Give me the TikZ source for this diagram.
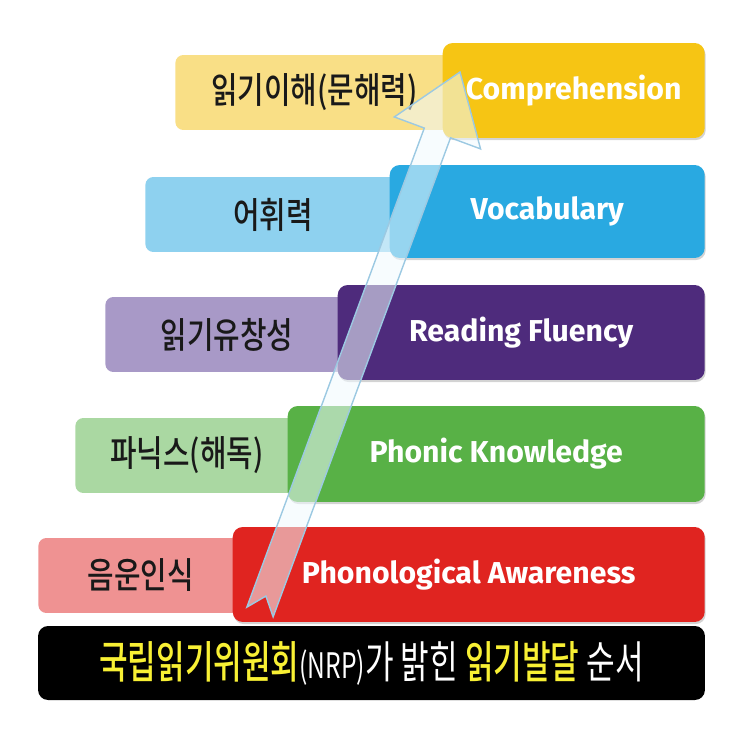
\documentclass[tikz,border=0pt]{standalone}
\usepackage{fontspec}
\setmainfont{Fira Sans}
\newfontfamily\kr{Noto Sans CJK KR}[UprightFont=* Medium, BoldFont=* Bold, FakeStretch=0.8]
\newfontfamily\krn{Noto Sans CJK KR}[UprightFont=* Medium, BoldFont=* Bold, FakeStretch=0.7]
\newfontfamily\krl{Noto Sans CJK KR}[FakeStretch=0.7]
\usetikzlibrary{calc,shadows}

\definecolor{compL}{HTML}{F9DF86}
\definecolor{compD}{HTML}{F6C514}
\definecolor{vocaL}{HTML}{8ED1EF}
\definecolor{vocaD}{HTML}{29A9E1}
\definecolor{fluL}{HTML}{A899C7}
\definecolor{fluD}{HTML}{4E2B7C}
\definecolor{phonL}{HTML}{AAD8A2}
\definecolor{phonD}{HTML}{58B146}
\definecolor{awaL}{HTML}{EF9292}
\definecolor{awaD}{HTML}{E02420}
\definecolor{nrpY}{HTML}{F8F034}
\definecolor{arrEdge}{HTML}{9CC9E2}

\begin{document}
\begin{tikzpicture}[x=0.02cm,y=-0.02cm,
  lbox/.style={rounded corners=0.16cm, minimum height=1.5cm, anchor=west, inner sep=0pt,
    font=\kr\fontsize{20.5}{24}\selectfont, text=black!90},
  dbox/.style={rounded corners=0.2cm, anchor=east, inner sep=0pt,
    font=\bfseries\fontsize{17.2}{20}\selectfont, text=white,
    drop shadow={shadow xshift=0.6pt, shadow yshift=-1.2pt, opacity=0.35}},
  arrbody/.style={draw=arrEdge, line width=0.8pt, fill=cyan!6!white, fill opacity=0.55, line join=miter}]
\useasboundingbox (0,0) rectangle (743,743);

\node (compL) [lbox, fill=compL, minimum width=5.56cm] at (175,92.5) {읽기이해(문해력)};
\node (compD) [dbox, fill=compD, minimum width=5.24cm, minimum height=1.9cm] at (705,90.5) {Comprehension};

\node (vocaL) [lbox, fill=vocaL, minimum width=5.1cm] at (145,214.5) {어휘력};
\node (vocaD) [dbox, fill=vocaD, minimum width=6.3cm, minimum height=1.86cm] at (705,211.5) {Vocabulary};

\node (fluL) [lbox, fill=fluL, minimum width=4.86cm] at (105,334.5) {읽기유창성};
\node (fluD) [dbox, fill=fluD, minimum width=7.34cm, minimum height=1.9cm] at (705,332.5) {Reading Fluency};

\node (phonL) [lbox, fill=phonL, minimum width=4.46cm] at (75,455.5) {파닉스(해독)};
\node (phonD) [dbox, fill=phonD, minimum width=8.34cm, minimum height=1.92cm] at (705,454) {Phonic Knowledge};

\node (awaL) [lbox, fill=awaL, minimum width=4.1cm] at (38,575.5) {음운인식};
\node (awaD) [dbox, fill=awaD, minimum width=9.44cm, minimum height=1.9cm] at (705,574.5) {Phonological Awareness};

\node (nrp) [fill=black, rounded corners=0.2cm, minimum width=13.34cm, minimum height=1.48cm, inner sep=0pt,
  text=white, font=\krl\fontsize{25.3}{29}\selectfont] at (371.5,663)
  {\textcolor{nrpY}{\krn 국립읽기위원회}{\fontsize{20}{22}\selectfont(NRP)}가 밝힌 \textcolor{nrpY}{\krn 읽기발달} 순서};

\coordinate (tail) at (260,612);
\coordinate (tip) at (460,72);
\coordinate (hbase) at ($(tip)!1.3cm!(tail)$);
\draw[arrbody] ($(tail)!0.28cm!90:(tip)$) -- ($(hbase)!0.28cm!90:(tip)$) -- ($(hbase)!0.92cm!90:(tip)$)
  -- (tip) -- ($(hbase)!0.92cm!-90:(tip)$) -- ($(hbase)!0.28cm!-90:(tip)$)
  -- ($(tail)!0.28cm!-90:(tip)$) -- ($(tail)!0.34cm!(tip)$) -- cycle;
\end{tikzpicture}
\end{document}
